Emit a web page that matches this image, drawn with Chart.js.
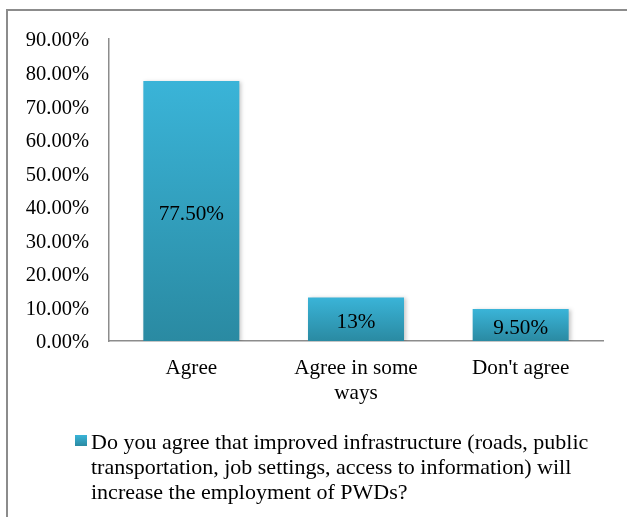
<!DOCTYPE html>
<html>
<head>
<meta charset="utf-8">
<script src="https://cdn.jsdelivr.net/npm/chart.js@4/dist/chart.umd.min.js"></script>
<style>
  html, body { margin: 0; padding: 0; background: #fff; }
  #wrap { position: relative; width: 627px; height: 517px; overflow: hidden; }
  #frame { position: absolute; left: 6px; top: 9px; width: 700px; height: 600px;
           border-top: 2px solid #8c8c8c; border-left: 2px solid #8c8c8c; }
  canvas { position: absolute; left: 0; top: 0; }
</style>
</head>
<body>
<div id="wrap">
  <div id="frame"></div>
  <canvas id="chart" width="627" height="517"></canvas>
</div>
<script>
// Survey answers (percent of respondents)
const categories = [["Agree"], ["Agree in some", "ways"], ["Don't agree"]];
const shares = [77.5, 13, 9.5];
const shareLabels = ["77.50%", "13%", "9.50%"];
const yTicks = [0, 10, 20, 30, 40, 50, 60, 70, 80, 90];
const legendLines = [
  "Do you agree that improved infrastructure (roads, public",
  "transportation, job settings, access to information) will",
  "increase the employment of PWDs?"
];

const FONT = "'Liberation Serif', 'Times New Roman', serif";
const TICK_SIZE = 20.5;
const LABEL_SIZE = 21.2;
const LEGEND_SIZE = 22;
const LIGHT = "#3ab4d8";
const DARK = "#2a8aa2";

function barGradient(ctx, top, bottom) {
  const g = ctx.createLinearGradient(0, top, 0, bottom);
  g.addColorStop(0, LIGHT);
  g.addColorStop(1, DARK);
  return g;
}

const barShadow = {
  id: "barShadow",
  beforeDatasetDraw(chart) {
    const ctx = chart.ctx;
    ctx.save();
    ctx.shadowColor = "rgba(0,0,0,0.22)";
    ctx.shadowBlur = 4;
    ctx.shadowOffsetX = 2;
    ctx.shadowOffsetY = 1;
  },
  afterDatasetDraw(chart) {
    chart.ctx.restore();
  }
};

const valueLabels = {
  id: "valueLabels",
  afterDatasetsDraw(chart) {
    const ctx = chart.ctx;
    const meta = chart.getDatasetMeta(0);
    ctx.save();
    ctx.font = LABEL_SIZE + "px " + FONT;
    ctx.fillStyle = "#000";
    ctx.textAlign = "center";
    ctx.textBaseline = "middle";
    meta.data.forEach((bar, i) => {
      const y = (bar.y + bar.base) / 2 + 3;
      ctx.fillText(shareLabels[i], bar.x, y);
    });
    ctx.restore();
  }
};

const wrappedLegend = {
  id: "wrappedLegend",
  afterDraw(chart) {
    const ctx = chart.ctx;
    const x0 = 75, y0 = 435, lineGap = 25;
    ctx.save();
    ctx.fillStyle = barGradient(ctx, y0, y0 + 11);
    ctx.fillRect(x0, y0, 12, 11);
    ctx.font = LEGEND_SIZE + "px " + FONT;
    ctx.fillStyle = "#000";
    ctx.textAlign = "left";
    ctx.textBaseline = "middle";
    legendLines.forEach((line, i) => {
      ctx.fillText(line, x0 + 16, y0 + 8 + i * lineGap);
    });
    ctx.restore();
  }
};

new Chart(document.getElementById("chart"), {
  type: "bar",
  data: {
    labels: categories,
    datasets: [{
      label: legendLines.join(" "),
      data: shares,
      backgroundColor(context) {
        const chart = context.chart;
        if (!chart.chartArea || context.parsed === undefined) return LIGHT;
        const y = chart.scales.y;
        const top = y.getPixelForValue(context.parsed.y);
        const bottom = y.getPixelForValue(0);
        return barGradient(chart.ctx, top, bottom);
      },
      borderWidth: 0,
      barPercentage: 0.583,
      categoryPercentage: 1.0
    }]
  },
  options: {
    responsive: false,
    animation: false,
    layout: { padding: { left: 0, top: 39, right: 24, bottom: 0 } },
    plugins: {
      legend: { display: false },
      tooltip: { enabled: false }
    },
    scales: {
      x: {
        grid: { display: false, drawTicks: false },
        border: { display: true, color: "#8c8c8c", width: 1.5 },
        ticks: {
          color: "#000",
          padding: 15,
          maxRotation: 0,
          font: { family: FONT, size: LABEL_SIZE, lineHeight: 1.18 }
        },
        afterFit(scale) { scale.height = 176; }
      },
      y: {
        min: 0,
        max: 90,
        grid: { display: false, drawTicks: false },
        border: { display: true, color: "#8c8c8c", width: 1.5 },
        afterBuildTicks(scale) { scale.ticks = yTicks.map(v => ({ value: v })); },
        ticks: {
          color: "#000",
          padding: 20,
          labelOffset: 2,
          font: { family: FONT, size: TICK_SIZE },
          callback: v => v.toFixed(2) + "%"
        },
        afterFit(scale) { scale.width = 109; }
      }
    }
  },
  plugins: [barShadow, valueLabels, wrappedLegend]
});
</script>
</body>
</html>
